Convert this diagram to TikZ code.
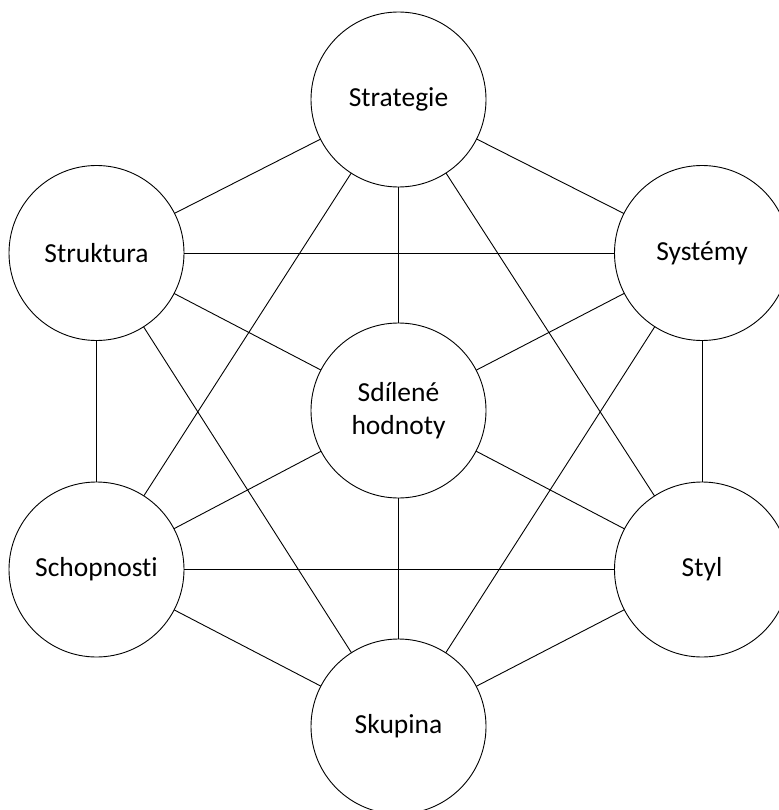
\documentclass[tikz,border=0pt]{standalone}
\usepackage{fontspec}
\setmainfont{Carlito}[Ligatures={NoCommon}]
\usetikzlibrary{positioning}
\definecolor{lineColor}{RGB}{0, 0, 0}
\definecolor{textColor}{RGB}{0, 0, 0}
\tikzset{
    s7_node/.style={
        circle,
        draw=lineColor,
        line width=0.9pt,
        fill=white,
        text=textColor,
        minimum size=175pt,
        inner sep=0pt,
        outer sep=0pt,
        align=center,
        font=\fontsize{27.5}{33}\selectfont
    },
    s7_edge/.style={
        -,
        line width=0.9pt,
        draw=lineColor
    }
}
\begin{document}
\begin{tikzpicture}[x=1pt, y=-1pt, on grid]
    \useasboundingbox (0,0) rectangle (778,810);
    \node[s7_node] (hodnoty) at (398.5,410.5) {Sdílené\\hodnoty};
    \node[s7_node, above=311pt of hodnoty] (strategie) {Strategie};
    \node[s7_node, below=316pt of hodnoty] (skupina) {Skupina};
    \node[s7_node, above left=157.5pt and 302pt of hodnoty] (struktura) {Struktura};
    \node[s7_node, above right=157.5pt and 303.5pt of hodnoty] (systemy) {Systémy};
    \node[s7_node, below left=159pt and 302pt of hodnoty] (schopnosti) {Schopnosti};
    \node[s7_node, below right=159pt and 303.5pt of hodnoty] (styl) {Styl};

    \draw[s7_edge]
        (strategie) edge (struktura)
        (strategie) edge (systemy)
        (strategie) edge (hodnoty)
        (strategie) edge (schopnosti)
        (strategie) edge (styl)
        (struktura) edge (systemy)
        (struktura) edge (hodnoty)
        (struktura) edge (schopnosti)
        (struktura) edge (skupina)
        (systemy) edge (hodnoty)
        (systemy) edge (styl)
        (systemy) edge (skupina)
        (schopnosti) edge (hodnoty)
        (schopnosti) edge (styl)
        (schopnosti) edge (skupina)
        (styl) edge (hodnoty)
        (styl) edge (skupina)
        (skupina) edge (hodnoty);
\end{tikzpicture}
\end{document}
